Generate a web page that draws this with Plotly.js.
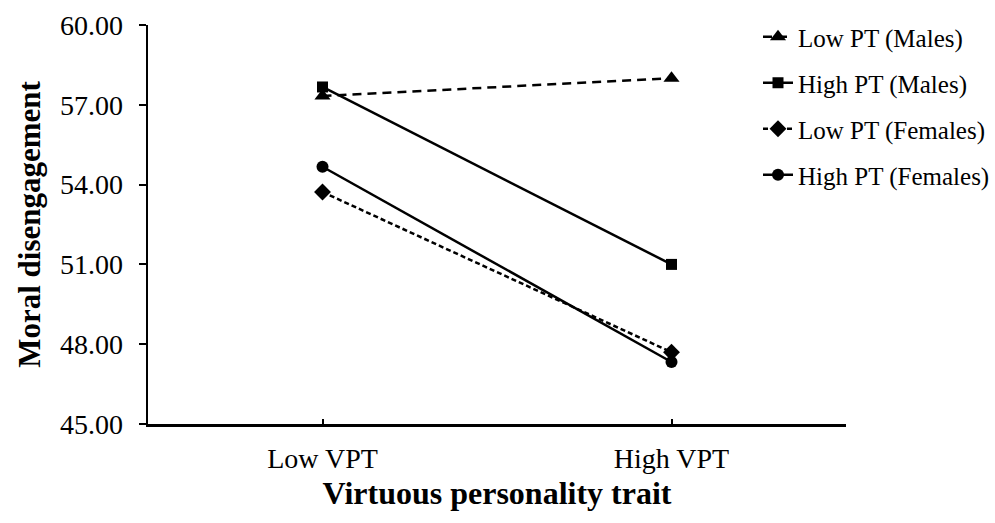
<!DOCTYPE html>
<html><head><meta charset="utf-8">
<script src="https://cdn.plot.ly/plotly-3.0.1.min.js"></script>
<style>html,body{margin:0;padding:0;background:#fff}#chart{width:995px;height:523px}</style>
</head><body><div id="chart"></div>
<script>
const categories = ["Low VPT", "High VPT"];
const seriesNames = ["Low PT (Males)", "High PT (Males)", "Low PT (Females)", "High PT (Females)"];
const lowPTMales = [57.33, 58.0];
const highPTMales = [57.67, 51.0];
const lowPTFemales = [53.72, 47.7];
const highPTFemales = [54.67, 47.33];
const yTicks = [45, 48, 51, 54, 57, 60];

const xIdx = categories.map((c, i) => i);
const styles = [
  {dash: "9px,6px", symbol: "triangle-up", size: 14},
  {dash: "solid", symbol: "square", size: 11},
  {dash: "5px,3px", symbol: "diamond", size: 13},
  {dash: "solid", symbol: "circle", size: 12}
];
const values = [lowPTMales, highPTMales, lowPTFemales, highPTFemales];
const traces = values.map((v, i) => ({
  x: xIdx, y: v, name: seriesNames[i], type: "scatter", mode: "lines+markers",
  legendgroup: "g" + i,
  line: {color: "#000", width: 2.5, dash: styles[i].dash},
  marker: {color: "#000", symbol: styles[i].symbol, size: styles[i].size}
}));

const fam = "Liberation Serif";
const f = (s) => ({family: fam, size: s, color: "#000"});
const layout = {
  width: 995, height: 523,
  margin: {l: 148, r: 149, t: 25, b: 99, autoexpand: false},
  paper_bgcolor: "#fff", plot_bgcolor: "#fff",
  font: f(25),
  showlegend: true,
  legend: {
    xref: "container", yref: "container", x: 1, y: 1 - 14/523,
    xanchor: "right", yanchor: "top",
    font: f(25),
    tracegroupgap: 10.5, bgcolor: "rgba(0,0,0,0)"
  },
  xaxis: {
    range: [-0.5, 1.5], tickmode: "array",
    tickvals: xIdx.concat([1.5]), ticktext: categories.concat([""]),
    ticks: "inside", ticklen: 5, tickwidth: 2, tickcolor: "#000",
    showline: true, linecolor: "#000", linewidth: 2.5, showgrid: false, zeroline: false,
    tickfont: f(28), ticklabelstandoff: 8,
    title: {text: "<b>Virtuous personality trait</b>", font: f(32), standoff: 9}
  },
  yaxis: {
    range: [45, 60], tickmode: "array", tickvals: yTicks,
    ticktext: yTicks.map(t => t.toFixed(2)),
    ticks: "outside", ticklen: 7, tickwidth: 2, tickcolor: "#000",
    showline: true, linecolor: "#000", linewidth: 2.5, showgrid: false, zeroline: false,
    tickfont: f(28), ticklabelstandoff: 10,
    title: {text: "<b>Moral disengagement</b>", font: f(31), standoff: 10}
  }
};
Plotly.newPlot("chart", traces, layout, {displayModeBar: false, staticPlot: true});
</script></body></html>
